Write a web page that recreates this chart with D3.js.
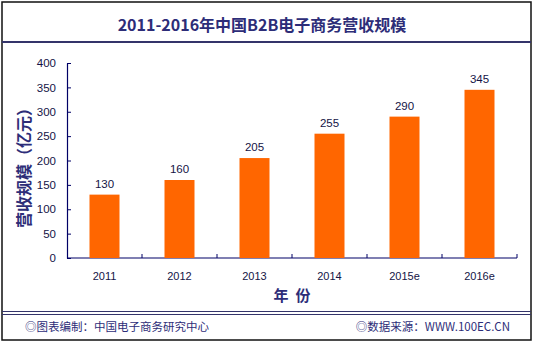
<!DOCTYPE html>
<html>
<head>
<meta charset="utf-8">
<script src="https://cdn.jsdelivr.net/npm/d3@7/dist/d3.min.js"></script>
<style>
  html, body { margin: 0; padding: 0; background: #ffffff; }
  svg { display: block; }
  .cjk { font-family: "Noto Sans CJK SC", "Noto Sans", sans-serif; }
  .num { font-family: "Liberation Sans", Arial, sans-serif; }
</style>
</head>
<body>
<svg id="chart" width="533" height="342"></svg>
<script>
// B2B e-commerce revenue, 2011-2016 (unit: 亿元)
const years = ["2011", "2012", "2013", "2014", "2015e", "2016e"];
const revenue = [130, 160, 205, 255, 290, 345];
const yTicks = [0, 50, 100, 150, 200, 250, 300, 350, 400];

const titleText = "2011-2016年中国B2B电子商务营收规模";
const xTitle = "年  份";
const yTitle = "营收规模（亿元）";
const footLeft = "◎图表编制：中国电子商务研究中心";
const footRight = "◎数据来源：WWW.100EC.CN";

const navy = "#2d2d78";
const ink = "#141446";
const barColor = "#ff6600";

const svg = d3.select("#chart");

// frame, header rule and footer rules
svg.append("rect").attr("x", 2).attr("y", 2).attr("width", 529).attr("height", 338)
  .attr("fill", "#fff").attr("stroke", "#111").attr("stroke-width", 1.5);
svg.append("line").attr("x1", 2).attr("x2", 531).attr("y1", 42).attr("y2", 42)
  .attr("stroke", "#34346a").attr("stroke-width", 1.8);
[311.5, 314.5].forEach(y => {
  svg.append("line").attr("x1", 2).attr("x2", 531).attr("y1", y).attr("y2", y)
    .attr("stroke", "#34346a").attr("stroke-width", 1);
});

// title
svg.append("text").attr("class", "cjk")
  .attr("x", 262).attr("y", 25).attr("dy", "0.36em")
  .attr("text-anchor", "middle").attr("font-size", 16).attr("font-weight", "bold")
  .attr("fill", navy).text(titleText);

// scales
const x = d3.scaleBand().domain(years).range([67, 517])
  .paddingInner(0.6).paddingOuter(0.3);
const y = d3.scaleLinear().domain([0, 400]).range([258, 63]);

// y axis
const yAxis = svg.append("g").attr("transform", "translate(67,0)")
  .call(d3.axisLeft(y).tickValues(yTicks).tickSizeInner(-4).tickSizeOuter(0).tickPadding(11));
yAxis.select(".domain").attr("stroke", "#000066").attr("stroke-width", 1.2);
yAxis.selectAll(".tick line").attr("stroke", "#000066");
yAxis.selectAll(".tick text").attr("class", "num").attr("font-size", 11.5).attr("fill", ink);

// x axis: baseline plus category boundary ticks
const step = x.step();
svg.append("line").attr("x1", 67).attr("x2", 517).attr("y1", 258).attr("y2", 258)
  .attr("stroke", "#000066").attr("stroke-width", 1.2);
d3.range(1, years.length + 1).forEach(i => {
  const bx = x.range()[0] + i * step;
  svg.append("line").attr("x1", bx).attr("x2", bx).attr("y1", 258).attr("y2", 254)
    .attr("stroke", "#000066");
});
svg.selectAll(".xlab").data(years).join("text")
  .attr("class", "num xlab")
  .attr("x", d => x(d) + x.bandwidth() / 2).attr("y", 276).attr("dy", "0.35em")
  .attr("text-anchor", "middle").attr("font-size", 11).attr("fill", ink)
  .text(d => d);

// bars
const data = years.map((yr, i) => ({ year: yr, value: revenue[i] }));
svg.selectAll(".bar").data(data).join("rect")
  .attr("class", "bar")
  .attr("x", d => x(d.year)).attr("width", x.bandwidth())
  .attr("y", d => y(d.value)).attr("height", d => y(0) - y(d.value))
  .attr("fill", barColor);

// value labels
svg.selectAll(".val").data(data).join("text")
  .attr("class", "num val")
  .attr("x", d => x(d.year) + x.bandwidth() / 2).attr("y", d => y(d.value) - 7)
  .attr("text-anchor", "middle").attr("font-size", 11.5).attr("fill", ink)
  .text(d => d.value);

// axis titles
svg.append("text").attr("class", "cjk")
  .attr("x", 292).attr("y", 296).attr("dy", "0.36em")
  .attr("text-anchor", "middle").attr("font-size", 15).attr("font-weight", "bold")
  .attr("fill", navy).attr("xml:space", "preserve").style("white-space", "pre")
  .text(xTitle);
svg.append("text").attr("class", "cjk")
  .attr("transform", "translate(24,164) rotate(-90)").attr("dy", "0.36em")
  .attr("text-anchor", "middle").attr("font-size", 16).attr("font-weight", "bold")
  .attr("fill", navy).text(yTitle);

// footer
svg.append("text").attr("class", "cjk")
  .attr("x", 25).attr("y", 327).attr("dy", "0.36em")
  .attr("font-size", 11.5).attr("fill", navy).text(footLeft);
svg.append("text").attr("class", "cjk")
  .attr("x", 510).attr("y", 327).attr("dy", "0.36em").attr("text-anchor", "end")
  .attr("font-size", 11.5).attr("fill", navy).text(footRight);
</script>
</body>
</html>
